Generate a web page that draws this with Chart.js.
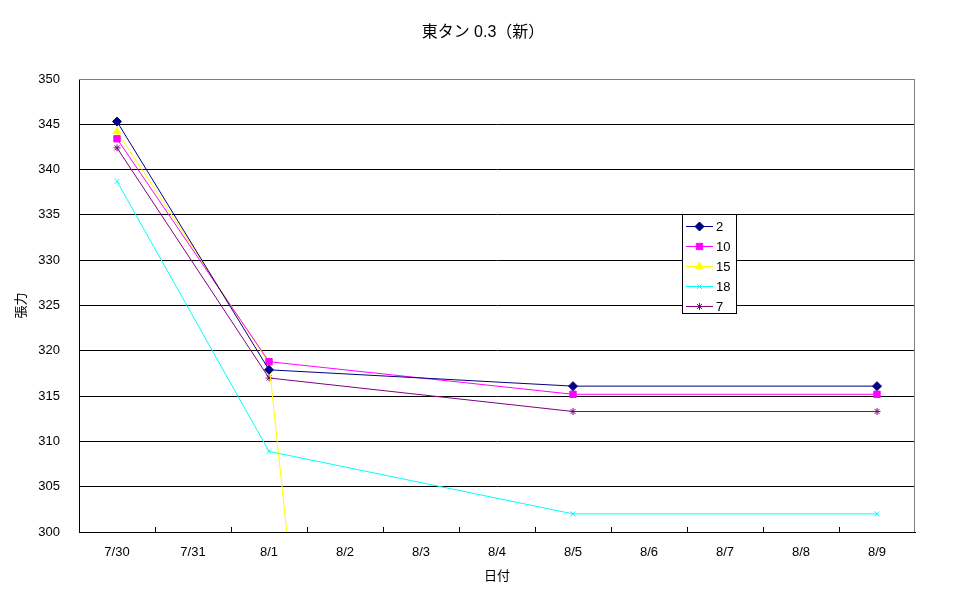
<!DOCTYPE html>
<html><head><meta charset="utf-8">
<script src="https://cdn.jsdelivr.net/npm/chart.js@4.4.0/dist/chart.umd.min.js"></script>
<style>html,body{margin:0;padding:0;background:#fff}</style>
</head><body>
<canvas id="c" width="970" height="603"></canvas>
<script>
// ---- data ----
const categories = ['7/30','7/31','8/1','8/2','8/3','8/4','8/5','8/6','8/7','8/8','8/9'];
const seriesNames = ['2','10','15','18','7'];
const s2  = [345.3, null, 317.9, null, null, null, 316.1, null, null, null, 316.1];
const s10 = [343.4, null, 318.8, null, null, null, 315.2, null, null, null, 315.2];
const s15 = [344.2, null, 318.6, null, null, null, 0, null, null, null, 0];
const s18 = [338.7, null, 308.9, null, null, null, 302.0, null, null, null, 302.0];
const s7  = [342.4, null, 317.0, null, null, null, 313.3, null, null, null, 313.3];
const yTicks = [300, 305, 310, 315, 320, 325, 330, 335, 340, 345, 350];
const titleText = '東タン 0.3（新）';
const xTitle = '日付';
const yTitle = '張力';

const FONT = "'Liberation Sans', 'Noto Sans CJK JP', sans-serif";
const styles = [
  {color:'#000080', point:'rectRot', r:4.5},
  {color:'#FF00FF', point:'rect', r:4.5},
  {color:'#FFFF00', point:'triangle', r:4.5},
  {color:'#00FFFF', point:'crossRot', r:3.5},
  {color:'#800080', point:'star', r:3.5}
];
const seriesData = [s2, s10, s15, s18, s7];

const datasets = seriesData.map((d, i) => ({
  label: seriesNames[i],
  data: d,
  borderColor: styles[i].color,
  backgroundColor: styles[i].color,
  pointBackgroundColor: styles[i].color,
  pointBorderColor: styles[i].color,
  pointStyle: styles[i].point,
  pointRadius: styles[i].r,
  pointHoverRadius: styles[i].r,
  pointBorderWidth: 1,
  borderWidth: 1,
  tension: 0,
  spanGaps: true,
  fill: false
}));

const framePlugin = {
  id: 'frame',
  beforeDatasetsDraw(chart) {
    const {ctx, chartArea: a} = chart;
    ctx.save();
    ctx.lineWidth = 1;
    ctx.strokeStyle = '#808080';
    ctx.beginPath();
    ctx.moveTo(a.left, a.top + 0.5);
    ctx.lineTo(Math.round(a.right) - 0.5, a.top + 0.5);
    ctx.lineTo(Math.round(a.right) - 0.5, a.bottom);
    ctx.stroke();
    ctx.strokeStyle = '#000';
    const n = categories.length;
    const w = (a.right - a.left) / n;
    ctx.beginPath();
    for (let k = 1; k < n; k++) {
      const x = Math.round(a.left + k * w) + 0.5;
      ctx.moveTo(x, a.bottom - 5);
      ctx.lineTo(x, a.bottom);
    }
    ctx.stroke();
    ctx.restore();
  }
};

const titlePlugin = {
  id: 'topTitle',
  afterDraw(chart) {
    const {ctx} = chart;
    ctx.save();
    ctx.fillStyle = '#000';
    ctx.font = '16px ' + FONT;
    ctx.textAlign = 'center';
    ctx.textBaseline = 'middle';
    ctx.fillText(titleText, 483, 33);
    ctx.restore();
  }
};

function drawMarker(ctx, st, x, y) {
  if (Chart.helpers && Chart.helpers.drawPoint) {
    ctx.fillStyle = st.color; ctx.strokeStyle = st.color; ctx.lineWidth = 1;
    Chart.helpers.drawPoint(ctx, {pointStyle: st.point, radius: st.r, rotation: 0, borderWidth: 1}, x, y);
  } else {
    ctx.fillStyle = st.color;
    ctx.fillRect(x - 3, y - 3, 6, 6);
  }
}

const legendPlugin = {
  id: 'boxLegend',
  afterDraw(chart) {
    const {ctx} = chart;
    const L = 682, T = 214, W = 55, H = 100;
    ctx.save();
    ctx.fillStyle = '#fff';
    ctx.fillRect(L, T, W, H);
    ctx.strokeStyle = '#000';
    ctx.lineWidth = 1;
    ctx.strokeRect(L + 0.5, T + 0.5, W - 1, H - 1);
    ctx.font = '13px ' + FONT;
    ctx.textBaseline = 'middle';
    ctx.textAlign = 'left';
    seriesNames.forEach((name, i) => {
      const y = T + 12 + i * 20;
      const st = styles[i];
      ctx.strokeStyle = st.color;
      ctx.lineWidth = 1;
      ctx.beginPath();
      ctx.moveTo(686, y + 0.5);
      ctx.lineTo(713, y + 0.5);
      ctx.stroke();
      drawMarker(ctx, st, 699.5, y + 0.5);
      ctx.fillStyle = '#000';
      ctx.fillText(name, 716, y + 1);
    });
    ctx.restore();
  }
};

new Chart(document.getElementById('c'), {
  type: 'line',
  data: { labels: categories, datasets },
  options: {
    responsive: false,
    animation: false,
    devicePixelRatio: 1,
    layout: { padding: { left: 0, right: 55, top: 79, bottom: 0 } },
    plugins: {
      legend: { display: false },
      tooltip: { enabled: false },
      title: { display: false }
    },
    scales: {
      x: {
        type: 'category',
        offset: true,
        grid: { display: true, drawOnChartArea: false, drawTicks: false, offset: true },
        border: { display: true, color: '#000', width: 1 },
        ticks: { color: '#000', font: { family: FONT, size: 13 }, padding: 13, maxRotation: 0, autoSkip: false },
        title: { display: true, text: xTitle, color: '#000', font: { family: FONT, size: 13 }, padding: { top: 0, bottom: 19 } },
        afterFit(s) { s.height = 71; }
      },
      y: {
        min: 300, max: 350,
        afterBuildTicks(s) { s.ticks = yTicks.map(v => ({ value: v })); },
        grid: {
          drawTicks: false,
          color: (c) => (c.tick && c.tick.value === 350) ? '#808080' : '#000',
          lineWidth: 1
        },
        border: { display: true, color: '#000', width: 1 },
        ticks: { color: '#000', font: { family: FONT, size: 13 }, padding: 19 },
        title: { display: true, text: yTitle, color: '#000', font: { family: FONT, size: 13 }, padding: { top: 14, bottom: 0 } },
        afterFit(s) { s.width = 79; }
      }
    }
  },
  plugins: [framePlugin, legendPlugin, titlePlugin]
});
</script>
</body></html>
